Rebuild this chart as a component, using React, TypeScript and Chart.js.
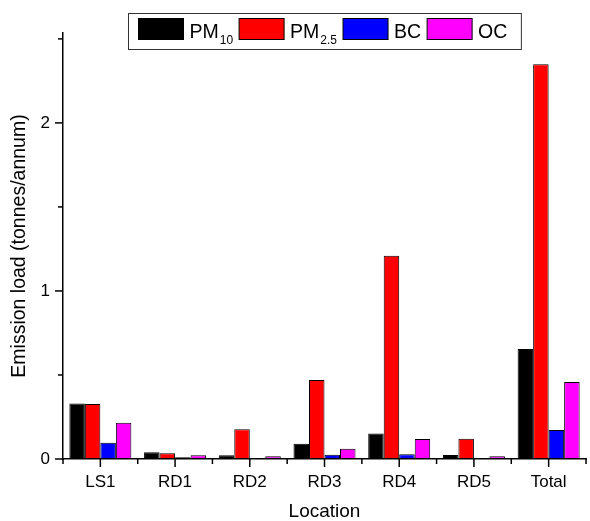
import React, { useEffect, useRef } from "react";
import { Chart, registerables } from "chart.js";

Chart.register(...registerables);

const categories = ["LS1", "RD1", "RD2", "RD3", "RD4", "RD5", "Total"];
const pm10 = [0.33, 0.04, 0.022, 0.091, 0.151, 0.024, 0.655];
const pm25 = [0.327, 0.034, 0.177, 0.47, 1.21, 0.121, 2.349];
const bc = [0.097, 0.01, 0.004, 0.026, 0.028, 0.005, 0.173];
const oc = [0.216, 0.022, 0.016, 0.061, 0.119, 0.016, 0.458];
const yMajorTicks = [0, 1, 2];
const yMinorTicks = [0.5, 1.5, 2.5];
const legendItems = [
  { main: "PM", sub: "10", color: "#000000" },
  { main: "PM", sub: "2.5", color: "#FF0000" },
  { main: "BC", sub: "", color: "#0000FF" },
  { main: "OC", sub: "", color: "#FF00FF" },
];

const FONT = "'Liberation Sans', Arial, sans-serif";

const customPlugin = {
  id: "customDecor",
  afterDraw(chart: any) {
    const ctx = chart.ctx as CanvasRenderingContext2D;
    const xs = chart.scales.x;
    const ys = chart.scales.y;
    const area = chart.chartArea;
    ctx.save();
    ctx.strokeStyle = "#000";
    ctx.lineWidth = 1.5;
    const ax = area.left;
    yMajorTicks.forEach((v) => {
      const py = ys.getPixelForValue(v);
      ctx.beginPath();
      ctx.moveTo(ax - 8, py);
      ctx.lineTo(ax, py);
      ctx.stroke();
    });
    yMinorTicks.forEach((v) => {
      const py = ys.getPixelForValue(v);
      ctx.beginPath();
      ctx.moveTo(ax - 5, py);
      ctx.lineTo(ax, py);
      ctx.stroke();
    });
    const by = area.bottom;
    const n = categories.length;
    for (let i = 0; i < n; i++) {
      const px = xs.getPixelForValue(i);
      ctx.beginPath();
      ctx.moveTo(px, by);
      ctx.lineTo(px, by + 8);
      ctx.stroke();
    }
    for (let i = 0; i <= n; i++) {
      const px = xs.left + (i * (xs.right - xs.left)) / n;
      ctx.beginPath();
      ctx.moveTo(px, by);
      ctx.lineTo(px, by + 5);
      ctx.stroke();
    }
    // legend
    const mainFont = `19.5px ${FONT}`;
    const subFont = `12px ${FONT}`;
    const swW = 45;
    const swH = 21;
    const padL = 10;
    const padR = 14;
    const gapSwText = 6;
    const gapItem = 6;
    const widths = legendItems.map((it) => {
      ctx.font = mainFont;
      let w = ctx.measureText(it.main).width;
      if (it.sub) {
        ctx.font = subFont;
        w += ctx.measureText(it.sub).width + 1;
      }
      return w;
    });
    let total = padL + padR;
    widths.forEach((w, i) => {
      total += swW + gapSwText + w + (i < widths.length - 1 ? gapItem : 0);
    });
    const cx = (area.left + area.right) / 2;
    const boxL = Math.round(cx - total / 2) + 0.5;
    const boxT = 13.5;
    const boxH = 36;
    ctx.fillStyle = "#fff";
    ctx.fillRect(boxL, boxT, total, boxH);
    ctx.lineWidth = 1;
    ctx.strokeStyle = "#333";
    ctx.strokeRect(boxL, boxT, total, boxH);
    let x = boxL + padL;
    const swT = 18.5;
    legendItems.forEach((it, i) => {
      ctx.fillStyle = it.color;
      ctx.fillRect(x, swT, swW, swH);
      ctx.strokeStyle = "#000";
      ctx.strokeRect(x, swT, swW, swH);
      x += swW + gapSwText;
      ctx.fillStyle = "#000";
      ctx.textBaseline = "alphabetic";
      ctx.textAlign = "left";
      ctx.font = mainFont;
      ctx.fillText(it.main, x, 37.5);
      const tx = x + ctx.measureText(it.main).width;
      if (it.sub) {
        ctx.font = subFont;
        ctx.fillText(it.sub, tx + 1, 44);
      }
      x += widths[i] + gapItem;
    });
    ctx.restore();
  },
};

export default function App() {
  const canvasRef = useRef<HTMLCanvasElement | null>(null);
  useEffect(() => {
    if (!canvasRef.current) return;
    const mk = (label: string, data: number[], color: string) => ({
      label,
      data,
      backgroundColor: color,
      borderColor: "#000",
      borderWidth: 1,
      borderSkipped: false as any,
      categoryPercentage: 0.83,
      barPercentage: 1.0,
    });
    const chart = new Chart(canvasRef.current, {
      type: "bar",
      data: {
        labels: categories,
        datasets: [
          mk("PM10", pm10, "#000000"),
          mk("PM2.5", pm25, "#FF0000"),
          mk("BC", bc, "#0000FF"),
          mk("OC", oc, "#FF00FF"),
        ],
      },
      options: {
        animation: false,
        responsive: false,
        maintainAspectRatio: false,
        layout: { padding: { top: 33, right: 4, left: 0, bottom: 0 } },
        plugins: {
          legend: { display: false },
          tooltip: { enabled: false },
        },
        scales: {
          x: {
            grid: { display: false, drawTicks: false },
            border: { display: true, color: "#000", width: 1.5 },
            ticks: {
              color: "#000",
              font: { family: FONT, size: 17 },
              padding: 13,
              maxRotation: 0,
            },
            title: {
              display: true,
              text: "Location",
              color: "#000",
              font: { family: FONT, size: 19, lineHeight: 1 },
              padding: { top: 4, bottom: 0 },
            },
            afterFit: (s: any) => {
              s.height = 62;
            },
          },
          y: {
            min: 0,
            max: 2.535,
            grid: { display: false, drawTicks: false },
            border: { display: true, color: "#000", width: 1.5 },
            afterBuildTicks: (s: any) => {
              s.ticks = yMajorTicks.map((v) => ({ value: v }));
            },
            ticks: {
              color: "#000",
              font: { family: FONT, size: 17 },
              padding: 13,
              callback: (v: any) => String(v),
            },
            title: {
              display: true,
              text: "Emission load (tonnes/annum)",
              color: "#000",
              font: { family: FONT, size: 19.5, lineHeight: 1.2 },
              padding: { top: 8, bottom: 0 },
            },
            afterFit: (s: any) => {
              s.width = 63;
            },
          },
        },
      },
      plugins: [customPlugin],
    });
    return () => chart.destroy();
  }, []);
  return (
    <div style={{ position: "fixed", left: 0, top: 0, width: 590, height: 521, background: "#fff" }}>
      <canvas ref={canvasRef} width={590} height={521} style={{ width: 590, height: 521 }} />
    </div>
  );
}
